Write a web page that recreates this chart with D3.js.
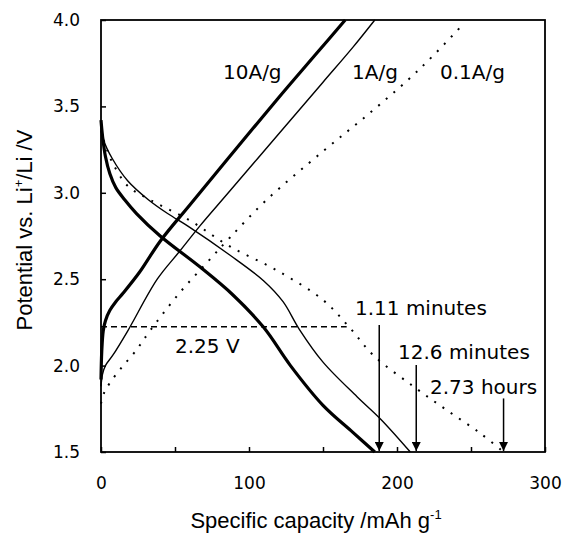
<!DOCTYPE html>
<html>
<head>
<meta charset="utf-8">
<script src="https://cdn.jsdelivr.net/npm/d3@7"></script>
<style>
  html, body { margin: 0; padding: 0; background: #fff; }
  svg { display: block; }
</style>
</head>
<body>
<svg id="chart" width="562" height="537"></svg>
<script>
// ---- data ----
const xTicks = [0, 50, 100, 150, 200, 250, 300];
const xTickLabels = [0, 100, 200, 300];
const yTicks = [1.5, 2.0, 2.5, 3.0, 3.5, 4.0];

// charge curves (capacity, potential)
const charge10X = [0, 0.5, 1.5, 3, 6, 10, 15, 26, 40, 60, 85, 119, 146, 165];
const charge10Y = [1.92, 2.08, 2.2, 2.26, 2.32, 2.37, 2.42, 2.54, 2.72, 2.93, 3.19, 3.54, 3.81, 4.0];
const charge1X = [0, 1, 3, 8, 18, 38, 53, 67, 85, 119, 150, 170, 185];
const charge1Y = [1.88, 1.95, 2.0, 2.06, 2.2, 2.50, 2.66, 2.81, 2.99, 3.33, 3.64, 3.84, 4.0];
const charge01X = [0, 2, 6, 14, 23, 33, 53, 72, 87, 112, 150, 180, 207, 224, 243];
const charge01Y = [1.78, 1.84, 1.90, 1.99, 2.08, 2.20, 2.42, 2.60, 2.74, 2.96, 3.24, 3.45, 3.65, 3.79, 3.96];

// discharge curves
const discharge10X = [0, 1, 3, 6, 10, 16, 24, 40, 67, 89, 110, 128, 150, 170, 185];
const discharge10Y = [3.42, 3.33, 3.21, 3.11, 3.03, 2.96, 2.88, 2.75, 2.57, 2.41, 2.22, 2.00, 1.77, 1.615, 1.5];
const discharge1X = [0, 2, 7.5, 18, 32, 45, 60, 87, 110, 123, 134, 150, 173, 189, 209];
const discharge1Y = [3.40, 3.30, 3.20, 3.07, 2.96, 2.88, 2.80, 2.64, 2.49, 2.37, 2.21, 2.02, 1.82, 1.69, 1.5];
const discharge01X = [0, 2, 4, 8, 18, 33, 60, 87, 119, 150, 168, 184, 211, 234, 256, 272];
const discharge01Y = [3.36, 3.30, 3.25, 3.17, 3.04, 2.96, 2.84, 2.69, 2.55, 2.38, 2.22, 2.06, 1.88, 1.74, 1.61, 1.5];

// reference level
const cutoffVoltage = 2.225;
const cutoffEndX = 166;

// end-of-discharge markers
const markerLabels = ["1.11 minutes", "12.6 minutes", "2.73 hours"];
const markerX = [188, 213, 272];
const markerTopY = [2.235, 2.003, 1.81];

const rateLabels = ["10A/g", "1A/g", "0.1A/g"];

// ---- layout ----
const svg = d3.select("#chart");
const mL = 101, mR = 545, mT = 20, mB = 452;
const x = d3.scaleLinear().domain([0, 300]).range([mL, mR]);
const y = d3.scaleLinear().domain([1.5, 4.0]).range([mB, mT]);

const zip = (xs, ys) => xs.map((v, i) => [v, ys[i]]);
const line = d3.line().x(d => x(d[0])).y(d => y(d[1])).curve(d3.curveCatmullRom.alpha(0.5));

const series = [
  { pts: zip(charge10X, charge10Y), w: 3.2, dash: null },
  { pts: zip(discharge10X, discharge10Y), w: 3.2, dash: null },
  { pts: zip(charge1X, charge1Y), w: 1.4, dash: null },
  { pts: zip(discharge1X, discharge1Y), w: 1.4, dash: null },
  { pts: zip(charge01X, charge01Y), w: 2, dash: "2,8" },
  { pts: zip(discharge01X, discharge01Y), w: 2, dash: "2,8" },
];

const g = svg.append("g");
g.selectAll("path.curve").data(series).join("path")
  .attr("class", "curve")
  .attr("d", d => line(d.pts))
  .attr("fill", "none")
  .attr("stroke", "#000")
  .attr("stroke-width", d => d.w)
  .attr("stroke-dasharray", d => d.dash);

// dashed voltage line
g.append("line")
  .attr("x1", x(0)).attr("x2", x(cutoffEndX))
  .attr("y1", y(cutoffVoltage)).attr("y2", y(cutoffVoltage))
  .attr("stroke", "#000").attr("stroke-width", 1.4)
  .attr("stroke-dasharray", "6,4");

// axes
const xAxis = d3.axisBottom(x).tickValues(xTicks).tickSizeInner(-5).tickSizeOuter(0).tickPadding(25)
  .tickFormat(d => xTickLabels.includes(d) ? d : "");
const yAxis = d3.axisLeft(y).tickValues(yTicks).tickSizeInner(-5).tickSizeOuter(0).tickPadding(21)
  .tickFormat(d3.format(".1f"));

const gx = svg.append("g").attr("transform", `translate(0,${mB})`).call(xAxis);
const gy = svg.append("g").attr("transform", `translate(${mL},0)`).call(yAxis);
[gx, gy].forEach(a => {
  a.select(".domain").remove();
  a.selectAll(".tick line").attr("stroke", "#000").attr("stroke-width", 1.5);
  a.selectAll(".tick text").attr("font-family", "DejaVu Sans").attr("font-size", 17).attr("fill", "#000");
});

// frame
svg.append("rect")
  .attr("x", mL).attr("y", mT)
  .attr("width", mR - mL).attr("height", mB - mT)
  .attr("fill", "none").attr("stroke", "#000").attr("stroke-width", 1.8);

// arrows
const defs = svg.append("defs");
defs.append("marker")
  .attr("id", "arrow").attr("viewBox", "0 0 10 10")
  .attr("refX", 10).attr("refY", 5)
  .attr("markerWidth", 10).attr("markerHeight", 9)
  .attr("markerUnits", "userSpaceOnUse")
  .attr("orient", "auto")
  .append("path").attr("d", "M0,0 L10,5 L0,10 Z").attr("fill", "#000");

svg.selectAll("line.marker").data(markerX).join("line")
  .attr("class", "marker")
  .attr("x1", d => x(d)).attr("x2", d => x(d))
  .attr("y1", (d, i) => y(markerTopY[i])).attr("y2", y(1.5) - 1)
  .attr("stroke", "#000").attr("stroke-width", 1.5)
  .attr("marker-end", "url(#arrow)");

// annotations
const ann = svg.append("g").attr("font-family", "DejaVu Sans").attr("font-size", 20).attr("fill", "#000");
const annPos = [
  { t: rateLabels[0], px: 223, py: 79 },
  { t: rateLabels[1], px: 352, py: 79 },
  { t: rateLabels[2], px: 440, py: 79 },
  { t: "2.25 V", px: 175, py: 353 },
  { t: markerLabels[0], px: 355, py: 315 },
  { t: markerLabels[1], px: 398, py: 359 },
  { t: markerLabels[2], px: 430, py: 394 },
];
ann.selectAll("text").data(annPos).join("text")
  .attr("x", d => d.px).attr("y", d => d.py).text(d => d.t);

// axis titles
const xt = svg.append("text")
  .attr("x", 316).attr("y", 528)
  .attr("text-anchor", "middle")
  .attr("font-family", "Liberation Sans, Arial, sans-serif").attr("font-size", 22).attr("fill", "#000");
xt.append("tspan").text("Specific capacity /mAh g");
xt.append("tspan").attr("font-size", 13).attr("dy", -9).text("-1");

const yt = svg.append("text")
  .attr("transform", `translate(32,${(mT + mB) / 2 - 6}) rotate(-90)`)
  .attr("text-anchor", "middle")
  .attr("font-family", "Liberation Sans, Arial, sans-serif").attr("font-size", 22).attr("fill", "#000");
yt.append("tspan").text("Potential vs. Li");
yt.append("tspan").attr("font-size", 13).attr("dy", -9).text("+");
yt.append("tspan").attr("dy", 9).text("/Li /V");
</script>
</body>
</html>
